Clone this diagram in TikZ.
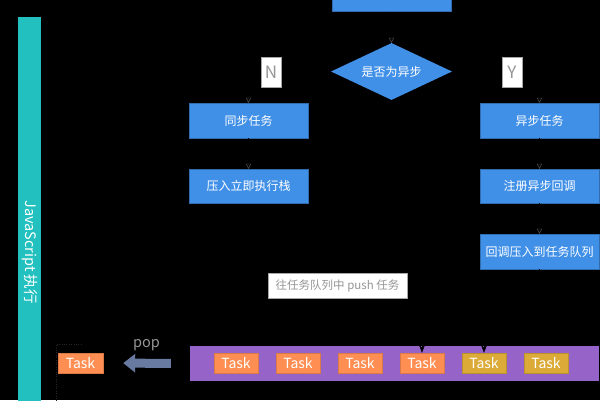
\documentclass[tikz,border=0pt]{standalone}
\usepackage{fontspec}
\setmainfont{Noto Sans CJK SC}
\usetikzlibrary{shapes.geometric, arrows, arrows.meta}
\usetikzlibrary{positioning}
\definecolor{boxblue}{RGB}{65,144,232}
\definecolor{jsteal}{RGB}{34,192,190}
\definecolor{queuepurple}{RGB}{150,100,200}
\definecolor{taskorange}{RGB}{254,142,82}
\definecolor{taskgold}{RGB}{220,170,55}
\definecolor{popgray}{RGB}{104,122,160}
\definecolor{labelgray}{RGB}{150,150,150}
\tikzstyle{process} = [rectangle, minimum width=119pt, minimum height=35pt, inner sep=0pt, text centered, draw=boxblue!75!black, fill=boxblue, text=white, font=\fontsize{12}{14}\selectfont]
\tikzstyle{decision} = [diamond, aspect=2.1, minimum width=121pt, minimum height=57pt, inner sep=0pt, text centered, fill=boxblue, text=white, font=\fontsize{12}{14}\selectfont]
\tikzstyle{yesno} = [rectangle, minimum width=20pt, minimum height=30pt, inner sep=0pt, fill=white, draw=gray!70, text=labelgray, font=\fontsize{17}{19}\selectfont]
\tikzstyle{note} = [rectangle, minimum width=139pt, minimum height=25pt, inner sep=0pt, fill=white, draw=gray!70, text=labelgray, font=\fontsize{11.5}{13}\selectfont]
\tikzstyle{task} = [rectangle, minimum width=44pt, minimum height=20pt, inner sep=0pt, fill=taskorange, draw=taskorange!85!black, text=white, font=\fontsize{14}{16}\selectfont]
\tikzstyle{donetask} = [task, fill=taskgold, draw=taskgold!85!black]
\tikzstyle{arrow} = [->, >={Triangle[open, length=5pt, width=5pt, color=black!65]}, black]
\tikzstyle{pusharrow} = [-{Stealth[length=8pt, width=6pt]}, black]

\begin{document}
\begin{tikzpicture}[x=1pt, y=-1pt, node distance=62pt]
        %background
        \fill[black] (0,0) rectangle (600,400);
        \useasboundingbox (0,0) rectangle (600,400);
        \clip (0,0) rectangle (600,400);
        %js column
        \node (JS) [rectangle, fill=jsteal, minimum width=23pt, minimum height=470pt, inner sep=0pt, text=white, font=\fontsize{14.5}{16}\selectfont] at (29.5,252) {\rotatebox{-90}{JavaScript 执行}};
        %flow
        \node (Start) [process, minimum height=37pt] at (391.5,-7) {};
        \node (Decide) [decision] at (391.5,71.5) {是否为异步};
        \node (Sync) [process] at (248.5,120.5) {同步任务};
        \node (Stack) [process, minimum height=34pt] at (248.5,186) {压入立即执行栈};
        \node (Async) [process] at (539.5,120.5) {异步任务};
        \node (Register) [process, minimum height=34pt] at (539.5,186) {注册异步回调};
        \node (Callback) [process] at (539.5,251.5) {回调压入到任务队列};
        %task queue
        \node (Queue) [rectangle, fill=queuepurple, minimum width=409pt, minimum height=35pt, inner sep=0pt] at (394.5,363.5) {};
        \node (T1) [task] at (236,363) {Task};
        \node (T2) [task, right of=T1] {Task};
        \node (T3) [task, right of=T2] {Task};
        \node (T4) [task, right of=T3] {Task};
        \node (T5) [donetask, right of=T4] {Task};
        \node (T6) [donetask, right of=T5] {Task};
        %popped task
        \node (Current) [task, minimum width=45pt] at (80.5,363) {Task};
        \draw[dotted, black!85] (56,420) |- (82,344);
        %arrows
        \draw [arrow] (Start) -- (Decide);
        \draw [arrow] (Decide.west) -| (Sync);
        \draw [arrow] (Decide.east) -| (Async);
        \draw [arrow] (Sync) -- (Stack);
        \draw [arrow] (Async) -- (Register);
        \draw [arrow] (Register) -- (Callback);
        \draw [pusharrow] (Callback.south) -- ++(0,18) -| (T4.north);
        \draw [pusharrow] (Callback.south) -- ++(0,18) -| (T5.north);
        \draw [popgray, line width=9pt, -{Triangle[width=18pt, length=12pt]}, shorten <=19pt, shorten >=20pt] (Queue.west) -- (Current.east) node[midway, yshift=18pt, text=labelgray, font=\fontsize{14.5}{16}\selectfont] {pop};
        %labels on top of the lines
        \node (No) [yesno] at (271,72) {N};
        \node (Yes) [yesno] at (512,72) {Y};
        \node (PushNote) [note] at (337.5,285.5) {往任务队列中 push 任务};
    \end{tikzpicture}
\end{document}
